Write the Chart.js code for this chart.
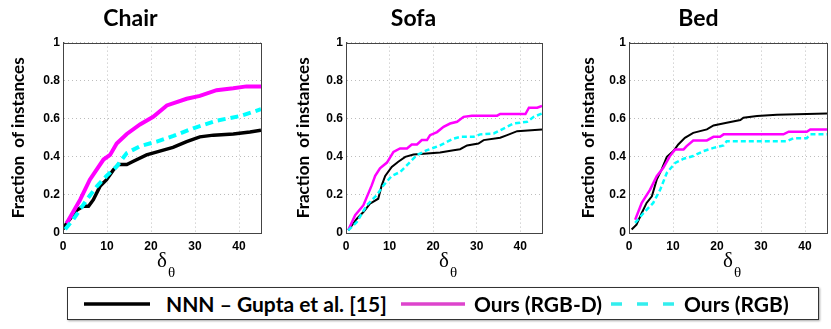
<!DOCTYPE html>
<html>
<head>
<meta charset="utf-8">
<script src="https://cdn.jsdelivr.net/npm/chart.js@4"></script>
<style>
  html, body { margin: 0; padding: 0; background: #fff; overflow: hidden; }
  body { width: 831px; height: 329px; position: relative; }
  canvas { position: absolute; top: 0; }
  #legend {
    position: absolute; left: 67px; top: 287px; width: 750px; height: 31px;
    border: 1px solid #333; box-shadow: 1px 1px 2px rgba(0,0,0,0.35);
    font-family: Lato, "Open Sans", sans-serif; font-weight: bold; font-size: 21px; color: #000;
  }
  #legend .it { position: absolute; top: 0; height: 31px; line-height: 31px; white-space: nowrap; }
  #legend svg { position: absolute; top: 13px; }
</style>
</head>
<body>
<canvas id="chair" width="300" height="282" style="left:0px"></canvas>
<canvas id="sofa" width="320" height="282" style="left:285px"></canvas>
<canvas id="bed" width="325" height="282" style="left:570px"></canvas>
<div id="legend">
  <svg width="66" height="6" style="left:16px"><line x1="0" y1="3" x2="66" y2="3" stroke="#000" stroke-width="3.5"/></svg>
  <span class="it" style="left:98px">NNN – Gupta et al. [15]</span>
  <svg width="64" height="6" style="left:333px"><line x1="0" y1="3" x2="64" y2="3" stroke="#dd44cc" stroke-width="3.5"/></svg>
  <span class="it" style="left:406px">Ours (RGB-D)</span>
  <svg width="64" height="6" style="left:543px"><line x1="0" y1="3" x2="64" y2="3" stroke="#33eeee" stroke-width="3.5" stroke-dasharray="11 15"/></svg>
  <span class="it" style="left:616px">Ours (RGB)</span>
</div>
<script>
// x = angle error (deg), y = fraction of instances
let chairNNN = [[0,0.02],[0.8,0.05],[3.1,0.12],[4.6,0.14],[5.8,0.14],[6.9,0.175],[8.4,0.245],[9.9,0.28],[11.4,0.33],[12.6,0.36],[14.5,0.36],[16,0.377],[19,0.41],[22,0.43],[25,0.45],[28.1,0.48],[31.1,0.505],[34.2,0.514],[38.7,0.52],[42.5,0.53],[45,0.54]];
let chairRGBD = [[0.8,0.05],[3.9,0.175],[6.1,0.28],[9.2,0.386],[10.7,0.41],[12.2,0.47],[14.5,0.52],[17.5,0.57],[20.5,0.61],[23.6,0.67],[28.1,0.705],[31.1,0.72],[34.9,0.75],[38.7,0.76],[41.7,0.77],[45,0.77]];
let chairRGB = [[0.5,0.02],[2.3,0.07],[5.4,0.175],[7.7,0.245],[9.9,0.3],[12.2,0.35],[14.5,0.42],[17.5,0.456],[21.3,0.48],[25.1,0.51],[29.6,0.55],[34.9,0.59],[40.2,0.614],[45,0.65]];

let sofaNNN = [[0.5,0.014],[2.5,0.075],[4,0.11],[5.5,0.154],[7.4,0.18],[8.2,0.25],[9,0.3],[10.5,0.347],[12,0.374],[13.6,0.4],[15.5,0.412],[18.6,0.418],[21.6,0.423],[24.7,0.435],[26.2,0.44],[27.8,0.46],[30.4,0.47],[31.6,0.488],[35.4,0.5],[37,0.514],[39.3,0.535],[45,0.544]];
let sofaRGBD = [[0.5,0.014],[2.1,0.093],[4,0.146],[5.9,0.25],[6.7,0.3],[7.8,0.34],[9.4,0.37],[10.9,0.426],[12.4,0.444],[14,0.444],[15.1,0.465],[16.3,0.465],[17.4,0.488],[18.6,0.488],[19.3,0.514],[20.9,0.53],[22.4,0.558],[23.9,0.575],[25.5,0.584],[27,0.61],[28.9,0.616],[34.7,0.616],[35.4,0.625],[41.2,0.625],[42,0.658],[43.9,0.658],[45,0.667]];
let sofaRGB = [[0.5,0.014],[2.5,0.058],[4.8,0.146],[7.1,0.2],[8.6,0.25],[10.5,0.3],[12.4,0.32],[14,0.356],[16.3,0.41],[18.6,0.435],[21.6,0.46],[24.7,0.496],[26.2,0.505],[29.3,0.505],[30.8,0.518],[33.9,0.523],[37,0.558],[38.5,0.575],[41.6,0.584],[43.1,0.61],[45,0.628]];

let bedNNN = [[0.6,0.018],[1.7,0.044],[2.9,0.105],[4,0.158],[5.2,0.193],[6.3,0.28],[7.4,0.333],[8.6,0.4],[10.1,0.43],[11.2,0.465],[12.7,0.5],[14.6,0.526],[17.7,0.544],[19.2,0.565],[22.2,0.579],[25.3,0.593],[26,0.605],[29.1,0.614],[33.6,0.621],[45,0.628]];
let bedRGBD = [[1.4,0.07],[2.9,0.158],[4.8,0.228],[6.3,0.298],[7.8,0.342],[9.3,0.404],[10.5,0.439],[12.4,0.439],[13.1,0.456],[14.6,0.486],[17.7,0.486],[19.2,0.505],[20.7,0.505],[21.5,0.518],[35.1,0.518],[36.3,0.532],[40.4,0.532],[41.2,0.544],[45,0.544]];
let bedRGB = [[1.4,0.053],[3.3,0.105],[5.5,0.158],[7.1,0.228],[8.6,0.316],[10.5,0.368],[12.4,0.39],[14.6,0.404],[16.9,0.43],[19.2,0.447],[21.5,0.46],[22.2,0.482],[35.9,0.482],[37.4,0.498],[40.4,0.498],[41.2,0.518],[45,0.518]];

let xTicks = [0, 10, 20, 30, 40];
let yTicks = [0, 0.2, 0.4, 0.6, 0.8, 1];

// box around plot + delta_theta label
const frameAndLabel = {
  id: 'frameAndLabel',
  afterDraw(chart) {
    const ctx = chart.ctx, a = chart.chartArea;
    ctx.save();
    ctx.strokeStyle = '#444';
    ctx.lineWidth = 1;
    ctx.strokeRect(Math.round(a.left) + 0.5, Math.round(a.top) + 0.5, Math.round(a.right - a.left), Math.round(a.bottom - a.top));
    let cx = (a.left + a.right) / 2 + 5;
    ctx.fillStyle = '#000';
    ctx.font = '21px "Liberation Serif", serif';
    ctx.textAlign = 'right';
    ctx.fillText('δ', cx, a.bottom + 34);
    ctx.font = '15px "Liberation Serif", serif';
    ctx.textAlign = 'left';
    ctx.fillText('θ', cx + 1, a.bottom + 44);
    ctx.restore();
  }
};

function toPts(arr) {
  return arr.map(function(p) { return {x: p[0], y: p[1]}; });
}

function makeChart(id, title, nnn, rgbd, rgb, yWidth, padRight, lw, dash) {
  const ctx = document.getElementById(id).getContext('2d');
  return new Chart(ctx, {
    type: 'line',
    data: {
      datasets: [
        { label: 'NNN – Gupta et al. [15]', data: toPts(nnn), borderColor: '#000000', borderWidth: lw - 0.5, order: 3 },
        { label: 'Ours (RGB-D)', data: toPts(rgbd), borderColor: '#ff00ff', borderWidth: lw, order: 2 },
        { label: 'Ours (RGB)', data: toPts(rgb), borderColor: '#00ffff', borderWidth: lw, borderDash: dash, order: 1 }
      ]
    },
    options: {
      responsive: false,
      animation: false,
      devicePixelRatio: 1,
      events: [],
      elements: { point: { radius: 0 }, line: { tension: 0, fill: false } },
      layout: { padding: { left: 0, right: padRight, top: 0, bottom: 0 } },
      plugins: {
        legend: { display: false },
        tooltip: { enabled: false },
        title: {
          display: true,
          text: title,
          color: '#000',
          font: { family: 'Lato', size: 23, weight: 'bold', lineHeight: 1.2 },
          padding: { top: 5, bottom: 10 }
        }
      },
      scales: {
        x: {
          type: 'linear',
          min: 0,
          max: 45,
          afterFit: function(s) { s.height = 49; },
          afterBuildTicks: function(s) { s.ticks = xTicks.map(function(v) { return {value: v}; }); },
          grid: { color: '#bdbdbd', drawTicks: false },
          border: { display: true, color: '#444', dash: [1, 3] },
          ticks: { color: '#000', padding: 6, font: { family: '"Liberation Sans", Arial', size: 12, weight: 'bold' } }
        },
        y: {
          min: 0,
          max: 1,
          afterFit: function(s) { s.width = yWidth; },
          afterBuildTicks: function(s) { s.ticks = yTicks.map(function(v) { return {value: v}; }); },
          grid: { color: '#bdbdbd', drawTicks: false },
          border: { display: true, color: '#444', dash: [1, 3] },
          ticks: {
            color: '#000', padding: 3,
            font: { family: '"Liberation Sans", Arial', size: 12, weight: 'bold' },
            callback: function(v) { return String(v); }
          },
          title: {
            display: true,
            text: 'Fraction  of instances',
            color: '#000',
            font: { family: 'Lato', size: 17, weight: 'bold', lineHeight: 1.2 },
            padding: { top: 8, bottom: 0 }
          }
        }
      }
    },
    plugins: [frameAndLabel]
  });
}

makeChart('chair', 'Chair', chairNNN, chairRGBD, chairRGB, 63, 39, 4, [8, 5]);
makeChart('sofa', 'Sofa', sofaNNN, sofaRGBD, sofaRGB, 61, 63, 2.5, [5, 3]);
makeChart('bed', 'Bed', bedNNN, bedRGBD, bedRGB, 59, 68, 2.5, [5, 3]);
</script>
</body>
</html>
